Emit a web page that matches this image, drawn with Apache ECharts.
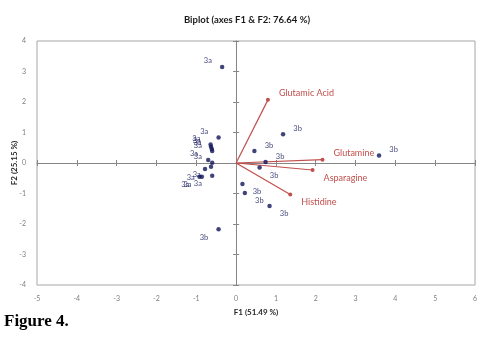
<!DOCTYPE html>
<html>
<head>
<meta charset="utf-8">
<script src="https://cdn.jsdelivr.net/npm/echarts@6/dist/echarts.min.js"></script>
<style>
  html, body { margin: 0; padding: 0; background: #fff; }
  #chart { width: 486px; height: 339px; }
  #fig { position: absolute; left: 4px; top: 311px; font: bold 17px 'Liberation Serif', serif; color: #000; }
</style>
</head>
<body>
<div id="chart"></div>
<div id="fig">Figure 4.</div>
<script>
// observations, group 3a
var obs3a = [
  [-0.35, 3.15], [-0.44, 0.84], [-0.64, 0.61], [-0.63, 0.53], [-0.61, 0.46],
  [-0.60, 0.39], [-0.70, 0.10], [-0.60, 0.01], [-0.63, -0.12], [-0.78, -0.20],
  [-0.86, -0.45], [-0.92, -0.45], [-0.60, -0.42]
];
// observations, group 3b
var obs3b = [
  [1.18, 0.94], [0.46, 0.39], [0.74, 0.03], [0.59, -0.15], [3.59, 0.25],
  [0.16, -0.69], [0.22, -0.98], [0.84, -1.41], [-0.44, -2.17]
];
// variable loadings (arrow ends)
var varNames = ['Glutamic Acid', 'Glutamine', 'Asparagine', 'Histidine'];
var varX = [0.80, 2.17, 1.92, 1.36];
var varY = [2.07, 0.11, -0.23, -1.03];

var navy = '#12155a';
var red = '#c0504d';
var font = 'Lato, sans-serif';

var chart = echarts.init(document.getElementById('chart'));

function obsData(arr, name, side) {
  return arr.map(function (p) {
    var below = p[1] < -0.1;
    var left = side === 'left' || p[1] < -2;
    return {
      value: p,
      label: {
        show: true,
        formatter: name,
        position: left ? 'left' : 'right',
        offset: [0, below ? 8 : -6]
      }
    };
  });
}

var series = [];
varNames.forEach(function (nm, i) {
  series.push({
    name: nm,
    type: 'line',
    xAxisIndex: 0,
    yAxisIndex: 0,
    silent: true,
    z: 3,
    lineStyle: { color: red, width: 1.2 },
    itemStyle: { color: red },
    symbol: 'circle',
    symbolSize: 4,
    data: [
      { value: [0, 0], symbol: 'none' },
      {
        value: [varX[i], varY[i]],
        label: {
          show: true,
          formatter: nm,
          position: 'right',
          offset: [4, varY[i] < -0.1 ? 8 : -7],
          color: red,
          fontSize: 9,
          fontFamily: font
        }
      }
    ]
  });
});

series.push({
  name: '3a',
  type: 'scatter',
  xAxisIndex: 0,
  yAxisIndex: 0,
  symbolSize: 4.5,
  itemStyle: { color: navy },
  label: { color: navy, fontSize: 7.5, fontFamily: font, distance: 8 },
  data: obsData(obs3a, '3a', 'left'),
  z: 4
});
series.push({
  name: '3b',
  type: 'scatter',
  xAxisIndex: 0,
  yAxisIndex: 0,
  symbolSize: 4.5,
  itemStyle: { color: navy },
  label: { color: navy, fontSize: 7.5, fontFamily: font, distance: 8 },
  data: obsData(obs3b, '3b', 'right'),
  z: 4
});

var tickLbl = { fontSize: 7, color: '#7f7f7f', fontFamily: font };

chart.setOption({
  animation: false,
  title: {
    text: 'Biplot (axes F1 & F2: 76.64 %)',
    left: 242,
    top: 10,
    textAlign: 'center',
    textStyle: { fontSize: 9.5, fontWeight: 'bold', color: '#1a1a1a', fontFamily: font }
  },
  grid: {
    left: 37, right: 11, top: 41, bottom: 54,
    outerBoundsMode: 'none',
    containLabel: false,
    show: true,
    borderColor: '#a6a6a6',
    borderWidth: 1
  },
  xAxis: [
    {
      type: 'value', min: -5, max: 6, interval: 1,
      position: 'bottom',
      name: 'F1 (51.49 %)',
      nameLocation: 'middle',
      nameGap: 23,
      nameMoveOverlap: false,
      nameTextStyle: { fontSize: 8, fontWeight: 'bold', color: '#262626', fontFamily: font },
      axisLine: { show: false, onZero: false },
      axisTick: { show: false },
      splitLine: { show: false },
      axisLabel: Object.assign({ margin: 10 }, tickLbl)
    },
    {
      type: 'value', min: -5, max: 6, interval: 1,
      axisLine: { show: true, onZero: true, lineStyle: { color: '#868686', width: 1 } },
      axisTick: { show: true, length: 3, lineStyle: { color: '#868686' } },
      axisLabel: { show: false },
      splitLine: { show: false }
    },
    {
      type: 'value', min: -5, max: 6, interval: 1,
      axisLine: { show: false, onZero: true },
      axisTick: { show: true, inside: true, length: 3, lineStyle: { color: '#868686' } },
      axisLabel: { show: false },
      splitLine: { show: false }
    }
  ],
  yAxis: [
    {
      type: 'value', min: -4, max: 4, interval: 1,
      position: 'left',
      name: 'F2 (25.15 %)',
      nameLocation: 'middle',
      nameGap: 19,
      nameMoveOverlap: false,
      nameTextStyle: { fontSize: 8, fontWeight: 'bold', color: '#262626', fontFamily: font },
      axisLine: { show: false, onZero: false },
      axisTick: { show: false },
      splitLine: { show: false },
      axisLabel: Object.assign({ margin: 11 }, tickLbl)
    },
    {
      type: 'value', min: -4, max: 4, interval: 1,
      axisLine: { show: true, onZero: true, lineStyle: { color: '#868686', width: 1 } },
      axisTick: { show: true, length: 3, lineStyle: { color: '#868686' } },
      axisLabel: { show: false },
      splitLine: { show: false }
    },
    {
      type: 'value', min: -4, max: 4, interval: 1,
      axisLine: { show: false, onZero: true },
      axisTick: { show: true, inside: true, length: 3, lineStyle: { color: '#868686' } },
      axisLabel: { show: false },
      splitLine: { show: false }
    }
  ],
  series: series
});
</script>
</body>
</html>
